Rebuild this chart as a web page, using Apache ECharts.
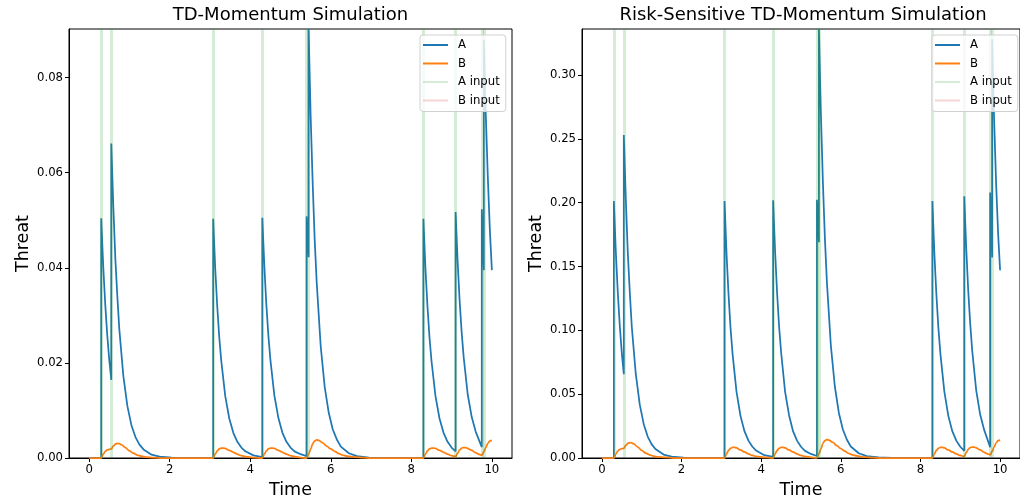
<!DOCTYPE html>
<html><head><meta charset="utf-8">
<script src="https://cdn.jsdelivr.net/npm/echarts@6/dist/echarts.min.js"></script>
<style>html,body{margin:0;padding:0;background:#fff}#c{width:1020px;height:504px}</style>
</head><body><div id="c"></div>
<script>
const titles = ['TD-Momentum Simulation', 'Risk-Sensitive TD-Momentum Simulation'];
const xTicks = [0, 2, 4, 6, 8, 10];
const yTicksTD = [0, 0.02, 0.04, 0.06, 0.08];
const yTicksRS = [0, 0.05, 0.10, 0.15, 0.20, 0.25, 0.30];
const aInputTimes = [0.30, 0.55, 3.08, 4.30, 5.40, 5.45, 8.30, 9.10, 9.75, 9.80];
const bInputTimes = [];

const tdA = [[0,0],[0.30,0],
[0.30,0.0504],[0.35,0.0403],[0.40,0.0323],[0.45,0.0258],[0.50,0.0206],[0.55,0.0164],
[0.55,0.0661],[0.60,0.053],[0.65,0.042],[0.70,0.034],[0.75,0.027],[0.85,0.0172],[0.95,0.0109],[1.05,0.0069],[1.15,0.0044],[1.25,0.0028],[1.35,0.0018],[1.55,0.0007],[1.75,0.0003],[2.05,0.0001],[2.55,0],[3.08,0],
[3.08,0.0503],[3.13,0.040],[3.18,0.032],[3.23,0.0255],[3.28,0.0205],[3.38,0.013],[3.48,0.0083],[3.58,0.0053],[3.68,0.0034],[3.78,0.0022],[3.88,0.0014],[4.08,0.00055],[4.30,0.0002],
[4.30,0.0505],[4.35,0.0404],[4.40,0.0323],[4.45,0.0258],[4.50,0.0207],[4.60,0.0131],[4.70,0.0084],[4.80,0.0053],[4.90,0.0034],[5.00,0.0022],[5.10,0.0014],[5.25,0.0008],[5.40,0.0004],
[5.40,0.0508],[5.45,0.0422],
[5.45,0.0902],[5.50,0.072],[5.55,0.058],[5.60,0.046],[5.65,0.037],[5.75,0.0235],[5.85,0.0149],[5.95,0.0095],[6.05,0.006],[6.15,0.0039],[6.25,0.0024],[6.45,0.001],[6.65,0.0004],[6.95,0.0001],[7.45,0],[8.30,0],
[8.30,0.0503],[8.35,0.040],[8.40,0.032],[8.45,0.0255],[8.50,0.0205],[8.60,0.013],[8.70,0.0083],[8.80,0.0053],[8.90,0.0034],[9.00,0.0022],[9.10,0.0014],
[9.10,0.0517],[9.15,0.0413],[9.20,0.033],[9.25,0.0264],[9.30,0.0212],[9.40,0.0134],[9.50,0.0086],[9.60,0.0055],[9.75,0.0023],
[9.75,0.0523],[9.80,0.0395],
[9.80,0.0879],[9.85,0.072],[9.90,0.059],[9.95,0.048],[10.0,0.0395]];

const tdB = [[0,0],[0.30,0],[0.35,0.0008],[0.40,0.0014],[0.45,0.0017],[0.50,0.0018],[0.55,0.0019],[0.60,0.0025],[0.65,0.0029],[0.70,0.0031],[0.75,0.0030],[0.80,0.0028],[0.90,0.0022],[1.00,0.0015],[1.10,0.0010],[1.20,0.0006],[1.30,0.0004],[1.40,0.0002],[1.60,0.0001],[1.80,0],[3.08,0],
[3.13,0.0008],[3.18,0.0015],[3.23,0.0019],[3.28,0.0021],[3.33,0.0021],[3.38,0.0020],[3.48,0.0016],[3.58,0.0012],[3.68,0.0008],[3.78,0.0005],[3.88,0.0003],[4.08,0.0001],[4.30,0],
[4.35,0.0008],[4.40,0.0015],[4.45,0.0019],[4.50,0.0021],[4.55,0.0021],[4.60,0.0020],[4.70,0.0016],[4.80,0.0012],[4.90,0.0008],[5.00,0.0005],[5.10,0.0003],[5.25,0.0001],[5.40,0],
[5.45,0.0008],[5.50,0.0018],[5.55,0.0030],[5.60,0.0036],[5.65,0.0038],[5.70,0.0037],[5.80,0.0032],[5.90,0.0025],[6.00,0.0019],[6.10,0.0014],[6.20,0.0009],[6.30,0.0006],[6.40,0.0004],[6.60,0.0002],[6.80,0.0001],[7.00,0],[8.30,0],
[8.35,0.0008],[8.40,0.0015],[8.45,0.0019],[8.50,0.0021],[8.55,0.0021],[8.60,0.0020],[8.70,0.0016],[8.80,0.0012],[8.90,0.0008],[9.00,0.0005],[9.10,0.0003],
[9.15,0.0010],[9.20,0.0017],[9.25,0.0021],[9.30,0.0022],[9.35,0.0022],[9.40,0.0020],[9.50,0.0016],[9.60,0.0011],[9.70,0.0007],[9.75,0.0006],
[9.80,0.0013],[9.85,0.0022],[9.90,0.0031],[9.95,0.0036],[10.0,0.0037]];

const rsA = [[0,0],[0.30,0],
[0.30,0.2013],[0.35,0.161],[0.40,0.129],[0.45,0.103],[0.50,0.082],[0.55,0.0656],
[0.55,0.253],[0.60,0.203],[0.65,0.161],[0.70,0.130],[0.75,0.103],[0.85,0.066],[0.95,0.042],[1.05,0.0265],[1.15,0.0168],[1.25,0.0107],[1.35,0.0069],[1.55,0.0027],[1.75,0.0011],[2.05,0.0003],[2.55,0],[3.08,0],
[3.08,0.2012],[3.13,0.160],[3.18,0.128],[3.23,0.102],[3.28,0.082],[3.38,0.052],[3.48,0.033],[3.58,0.021],[3.68,0.0136],[3.78,0.0088],[3.88,0.0056],[4.08,0.0022],[4.30,0.0008],
[4.30,0.2018],[4.35,0.1615],[4.40,0.129],[4.45,0.103],[4.50,0.083],[4.60,0.052],[4.70,0.0335],[4.80,0.021],[4.90,0.0136],[5.00,0.0088],[5.10,0.0056],[5.25,0.0032],[5.40,0.0016],
[5.40,0.2023],[5.45,0.169],
[5.45,0.336],[5.50,0.269],[5.55,0.216],[5.60,0.172],[5.65,0.138],[5.75,0.088],[5.85,0.056],[5.95,0.0355],[6.05,0.0225],[6.15,0.0145],[6.25,0.009],[6.45,0.0037],[6.65,0.0015],[6.95,0.0004],[7.45,0],[8.30,0],
[8.30,0.2012],[8.35,0.160],[8.40,0.128],[8.45,0.102],[8.50,0.082],[8.60,0.052],[8.70,0.033],[8.80,0.021],[8.90,0.0136],[9.00,0.0088],[9.10,0.0056],
[9.10,0.2050],[9.15,0.164],[9.20,0.131],[9.25,0.105],[9.30,0.084],[9.40,0.053],[9.50,0.034],[9.60,0.022],[9.75,0.0085],
[9.75,0.208],[9.80,0.157],
[9.80,0.328],[9.85,0.265],[9.90,0.215],[9.95,0.176],[10.0,0.147]];

const rsB = [[0,0],[0.30,0],[0.35,0.0031],[0.40,0.0055],[0.45,0.0068],[0.50,0.0073],[0.55,0.0076],[0.60,0.0098],[0.65,0.0114],[0.70,0.0121],[0.75,0.0118],[0.80,0.011],[0.90,0.0086],[1.00,0.0059],[1.10,0.0039],[1.20,0.0024],[1.30,0.0015],[1.40,0.0008],[1.60,0.0004],[1.80,0],[3.08,0],
[3.13,0.0032],[3.18,0.006],[3.23,0.0075],[3.28,0.0083],[3.33,0.0083],[3.38,0.0079],[3.48,0.0063],[3.58,0.0047],[3.68,0.0032],[3.78,0.002],[3.88,0.0012],[4.08,0.0004],[4.30,0],
[4.35,0.0032],[4.40,0.006],[4.45,0.0075],[4.50,0.0083],[4.55,0.0083],[4.60,0.0079],[4.70,0.0063],[4.80,0.0047],[4.90,0.0032],[5.00,0.002],[5.10,0.0012],[5.25,0.0005],[5.40,0.0001],
[5.45,0.0031],[5.50,0.007],[5.55,0.0115],[5.60,0.0137],[5.65,0.0143],[5.70,0.014],[5.80,0.0122],[5.90,0.0096],[6.00,0.0073],[6.10,0.0053],[6.20,0.0036],[6.30,0.0024],[6.40,0.0016],[6.60,0.0007],[6.80,0.0003],[7.00,0],[8.30,0],
[8.35,0.0032],[8.40,0.006],[8.45,0.0075],[8.50,0.0083],[8.55,0.0083],[8.60,0.0079],[8.70,0.0063],[8.80,0.0047],[8.90,0.0032],[9.00,0.002],[9.10,0.0012],
[9.15,0.0042],[9.20,0.0068],[9.25,0.0082],[9.30,0.0086],[9.35,0.0085],[9.40,0.008],[9.50,0.0063],[9.60,0.0045],[9.70,0.003],[9.75,0.0025],
[9.80,0.0052],[9.85,0.0086],[9.90,0.0119],[9.95,0.0136],[10.0,0.014]];

const FONT = 'DejaVu Sans';
const C_A = '#1f77b4', C_B = '#ff7f0e';
const C_AIN = 'rgba(44,160,44,0.2)', C_BIN = 'rgba(214,39,40,0.2)';

const grids = [
  {left: 69, top: 29, width: 443, height: 430},
  {left: 582, top: 29, width: 442, height: 430}
];
const yMax = [0.0902, 0.336];
const yTicks = [yTicksTD, yTicksRS];
const dataA = [tdA, rsA], dataB = [tdB, rsB];
const titleCenters = [290.5, 803];
const legendLeft = [420, 932];

const option = {
  animation: false,
  backgroundColor: '#fff',
  title: titles.map((t, i) => ({
    text: t, left: titleCenters[i], top: 6, textAlign: 'center', padding: 0,
    textStyle: {fontFamily: FONT, fontSize: 18, fontWeight: 'normal', color: '#000'}
  })),
  grid: grids.map(g => Object.assign({show: true, borderColor: '#000', borderWidth: 1, backgroundColor: 'transparent', containLabel: false}, g)),
  legend: legendLeft.map(l => ({
    orient: 'vertical', left: l, top: 35,
    icon: 'rect', itemWidth: 25, itemHeight: 2, itemGap: 4.5,
    padding: [3, 6, 4, 3],
    backgroundColor: 'rgba(255,255,255,0.8)', borderColor: '#d0d0d0', borderWidth: 1, borderRadius: 3,
    selectedMode: false, z: 20,
    textStyle: {fontFamily: FONT, fontSize: 11.7, color: '#000', lineHeight: 14, padding: [0, 0, 0, 5]},
    data: ['A', 'B', 'A input', 'B input']
  })),
  xAxis: [0, 1].map(i => ({
    type: 'value', gridIndex: i, min: -0.5, max: 10.5,
    name: 'Time', nameLocation: 'middle', nameGap: 23,
    nameTextStyle: {fontFamily: FONT, fontSize: 17.5, color: '#000'},
    axisLine: {show: true, onZero: false, lineStyle: {color: '#000', width: 1}},
    axisTick: {show: true, inside: false, length: 4, lineStyle: {color: '#000', width: 1}, customValues: xTicks},
    axisLabel: {customValues: xTicks, fontFamily: FONT, fontSize: 11.7, color: '#000', margin: 6, formatter: v => String(v)},
    splitLine: {show: false}
  })),
  yAxis: [0, 1].map(i => ({
    type: 'value', gridIndex: i, min: 0, max: yMax[i],
    name: 'Threat', nameLocation: 'middle', nameGap: 37,
    nameTextStyle: {fontFamily: FONT, fontSize: 17.5, color: '#000'},
    axisLine: {show: true, onZero: false, lineStyle: {color: '#000', width: 1}},
    axisTick: {show: true, inside: false, length: 4, lineStyle: {color: '#000', width: 1}, customValues: yTicks[i]},
    axisLabel: {customValues: yTicks[i], fontFamily: FONT, fontSize: 11.7, color: '#000', margin: 6, formatter: v => v.toFixed(2)},
    splitLine: {show: false}
  })),
  series: []
};

[0, 1].forEach(i => {
  option.series.push({
    name: 'A', type: 'line', xAxisIndex: i, yAxisIndex: i, data: dataA[i],
    symbol: 'none', showSymbol: false, color: C_A,
    lineStyle: {color: C_A, width: 1.75}, z: 2, clip: true, emphasis: {disabled: true}
  });
  option.series.push({
    name: 'B', type: 'line', xAxisIndex: i, yAxisIndex: i, data: dataB[i],
    symbol: 'none', showSymbol: false, color: C_B, smooth: 0.3, smoothMonotone: 'x',
    lineStyle: {color: C_B, width: 1.75}, z: 3, clip: true, emphasis: {disabled: true}
  });
  option.series.push({
    name: 'A input', type: 'line', xAxisIndex: i, yAxisIndex: i, data: [],
    symbol: 'none', color: C_AIN, lineStyle: {color: C_AIN, width: 3}, z: 4,
    markLine: {silent: true, symbol: ['none', 'none'], label: {show: false}, emphasis: {disabled: true},
      lineStyle: {color: C_AIN, width: 3, type: 'solid'},
      data: aInputTimes.map(t => ({xAxis: t}))}
  });
  option.series.push({
    name: 'B input', type: 'line', xAxisIndex: i, yAxisIndex: i, data: [],
    symbol: 'none', color: C_BIN, lineStyle: {color: C_BIN, width: 3}, z: 4,
    markLine: {silent: true, symbol: ['none', 'none'], label: {show: false}, emphasis: {disabled: true},
      lineStyle: {color: C_BIN, width: 3, type: 'solid'},
      data: bInputTimes.map(t => ({xAxis: t}))}
  });
});

const chart = echarts.init(document.getElementById('c'), null, {renderer: 'canvas'});
chart.setOption(option);
</script>
</body></html>
